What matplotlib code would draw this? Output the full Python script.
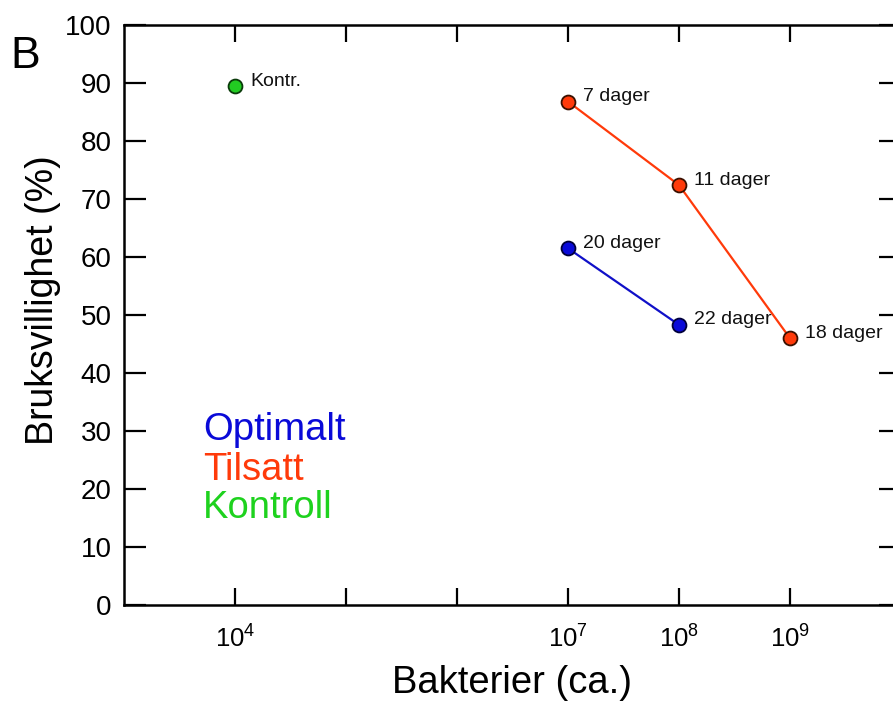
import matplotlib
matplotlib.use('Agg')
import matplotlib.pyplot as plt
from matplotlib.ticker import FixedLocator, FixedFormatter

plt.rcParams['font.family'] = ['Liberation Sans', 'DejaVu Sans']
plt.rcParams['mathtext.fontset'] = 'custom'
plt.rcParams['mathtext.rm'] = 'Liberation Sans'
plt.rcParams['mathtext.it'] = 'Liberation Sans:italic'

# bacteria count (ca.) vs usability (%)
tilsatt_x = [1e7, 1e8, 1e9]
tilsatt_y = [86.8, 72.4, 46.0]
tilsatt_lbl = ['7 dager', '11 dager', '18 dager']

optimalt_x = [1e7, 1e8]
optimalt_y = [61.5, 48.3]
optimalt_lbl = ['20 dager', '22 dager']

kontroll_x = [1e4]
kontroll_y = [89.4]
kontroll_lbl = ['Kontr.']

tick_exp = [4, 5, 6, 7, 8, 9]
tick_txt = [r'10$^{4}$', '', '', r'10$^{7}$', r'10$^{8}$', r'10$^{9}$']
y_ticks = list(range(0, 101, 10))

blue = '#0a0ad8'
red = '#ff3a0a'
green = '#1ed21e'

fig = plt.figure(figsize=(8.93, 7.06), dpi=100)
ax = fig.add_axes([0.1389, 0.1431, 0.870, 0.8215])

ax.plot(tilsatt_x, tilsatt_y, color=red, lw=1.6, marker='o', ms=10,
        mfc=red, mec='#3a1000', mew=1.3)
ax.plot(optimalt_x, optimalt_y, color='#1010c8', lw=1.6, marker='o', ms=10,
        mfc=blue, mec='#00003a', mew=1.3)
ax.plot(kontroll_x, kontroll_y, ls='none', marker='o', ms=10,
        mfc='#22cc22', mec='#0a3a0a', mew=1.3)

for xs, ys, lbls in [(tilsatt_x, tilsatt_y, tilsatt_lbl),
                     (optimalt_x, optimalt_y, optimalt_lbl),
                     (kontroll_x, kontroll_y, kontroll_lbl)]:
    for x, y, s in zip(xs, ys, lbls):
        ax.annotate(s, (x, y), xytext=(11, 3.5), textcoords='offset points',
                    fontsize=14, va='center', ha='left', color='#111111')

ax.set_xscale('log')
ax.set_xlim(1e3, 1e10)
ax.set_ylim(0, 100)

ax.xaxis.set_major_locator(FixedLocator([10.0 ** e for e in tick_exp]))
ax.xaxis.set_major_formatter(FixedFormatter(tick_txt))
ax.xaxis.set_minor_locator(FixedLocator([]))
ax.set_yticks(y_ticks)

ax.tick_params(axis='x', which='major', direction='in', length=12, width=1.6,
               top=True, labelsize=18.5, pad=15)
ax.tick_params(axis='y', which='major', direction='in', length=16, width=1.6,
               right=True, labelsize=20, pad=9)
for sp in ax.spines.values():
    sp.set_linewidth(1.8)

ax.set_xlabel('Bakterier (ca.)', fontsize=27.5, va='center')
ax.xaxis.set_label_coords(0.5, -0.134)
ax.set_ylabel('Bruksvillighet (%)', fontsize=27, va='center', ha='center')
ax.yaxis.set_label_coords(-0.104, 0.526)

# group key written as coloured text
ax.text(0.1017, 0.2845, 'Optimalt', color=blue, fontsize=27.5,
        transform=ax.transAxes, va='baseline')
ax.text(0.1017, 0.2155, 'Tilsatt', color=red, fontsize=27.5,
        transform=ax.transAxes, va='baseline')
ax.text(0.1017, 0.150, 'Kontroll', color=green, fontsize=27.5,
        transform=ax.transAxes, va='baseline')

fig.text(0.012, 1 - 57 / 706, 'B', fontsize=32, va='center', ha='left')

fig.savefig('out.png', dpi=100)
